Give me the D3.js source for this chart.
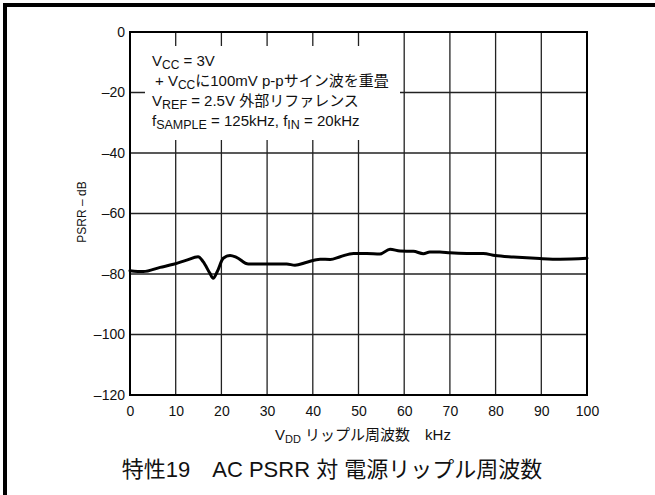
<!DOCTYPE html>
<html>
<head>
<meta charset="utf-8">
<script src="https://cdn.jsdelivr.net/npm/d3@7"></script>
<style>
  html, body { margin: 0; padding: 0; background: #fff; }
  svg { display: block; }
  text { font-family: "Liberation Sans", Arial, "Noto Sans CJK JP", sans-serif; fill: #111; }
</style>
</head>
<body>
<script>
// Ripple frequency (kHz) and measured AC PSRR (dB)
const freqKHz = [0, 2.9, 6.6, 9.5, 12.4, 14.9, 16, 17.5, 18.2, 19.1, 20.4, 21.9, 23.3, 25.9, 29.9, 34.3, 36.1, 38.7, 41.6, 43.8, 46, 48.9, 51.8, 54.7, 56.9, 59.1, 62, 64.2, 65.6, 67.8, 70, 73.7, 77.3, 79.9, 83.9, 89.7, 94.1, 100];
const psrrDB  = [-78.9, -79.2, -77.8, -76.8, -75.4, -74.3, -75.9, -79.8, -81.4, -79.2, -74.8, -73.9, -74.5, -76.7, -76.7, -76.7, -77.1, -76.1, -75.1, -75.2, -74.3, -73.2, -73.2, -73.4, -71.8, -72.4, -72.5, -73.3, -72.7, -72.7, -73.0, -73.2, -73.2, -73.9, -74.4, -74.9, -75.1, -74.8];

const xTicks = [0, 10, 20, 30, 40, 50, 60, 70, 80, 90, 100];
const yTicks = [0, -20, -40, -60, -80, -100, -120];

const W = 655, H = 495;
const plot = { left: 130, right: 587, top: 32, bottom: 395 };

const svg = d3.select("body").append("svg").attr("width", W).attr("height", H);

// Outer frame (top and left edges visible)
svg.append("path")
  .attr("d", `M5,${H + 10} L5,5 L${W + 10},5`)
  .attr("fill", "none").attr("stroke", "#000").attr("stroke-width", 4);

const x = d3.scaleLinear().domain([0, 100]).range([plot.left, plot.right]);
const y = d3.scaleLinear().domain([-120, 0]).range([plot.bottom, plot.top]);

// Grid
const grid = svg.append("g").attr("stroke", "#222").attr("stroke-width", 1.3);
grid.selectAll("line.v").data(xTicks.slice(1, -1)).join("line")
  .attr("x1", d => x(d)).attr("x2", d => x(d))
  .attr("y1", plot.top).attr("y2", plot.bottom);
grid.selectAll("line.h").data(yTicks.slice(1, -1)).join("line")
  .attr("x1", plot.left).attr("x2", plot.right)
  .attr("y1", d => y(d)).attr("y2", d => y(d));

// Conditions box (white background masks the grid)
svg.append("rect")
  .attr("x", 145).attr("y", 46).attr("width", 255).attr("height", 94)
  .attr("fill", "#fff");

// Plot border
svg.append("rect")
  .attr("x", plot.left).attr("y", plot.top)
  .attr("width", plot.right - plot.left).attr("height", plot.bottom - plot.top)
  .attr("fill", "none").attr("stroke", "#000").attr("stroke-width", 2);

// Axes tick labels
const xAxis = d3.axisBottom(x).tickValues(xTicks).tickSize(0).tickPadding(11);
const gx = svg.append("g").attr("transform", `translate(0,${plot.bottom})`).call(xAxis);
gx.select(".domain").remove();
gx.selectAll("text").attr("font-size", 14).attr("font-family", null).style("fill", "#111");

const yAxis = d3.axisLeft(y).tickValues(yTicks).tickSize(0).tickPadding(5)
  .tickFormat(d => d === 0 ? "0" : "–" + Math.abs(d));
const gy = svg.append("g").attr("transform", `translate(${plot.left},0)`).call(yAxis);
gy.select(".domain").remove();
gy.selectAll("text").attr("font-size", 14).attr("font-family", null).style("fill", "#111");

// PSRR curve
const pts = freqKHz.map((f, i) => [f, psrrDB[i]]);
svg.append("path")
  .datum(pts)
  .attr("fill", "none").attr("stroke", "#000").attr("stroke-width", 3)
  .attr("stroke-linejoin", "round").attr("stroke-linecap", "round")
  .attr("d", d3.line().x(d => x(d[0])).y(d => y(d[1])).curve(d3.curveMonotoneX));

// Text helper: segments of [text, isSub]
function richText(parent, px, py, size, subSize, segs, anchor) {
  const t = parent.append("text").attr("x", px).attr("y", py)
    .attr("font-size", size).attr("text-anchor", anchor || "start");
  const shift = 3;
  let sub = false;
  segs.forEach(([s, isSub]) => {
    const ts = t.append("tspan").text(s);
    if (isSub && !sub) { ts.attr("dy", shift).attr("font-size", subSize); sub = true; }
    else if (!isSub && sub) { ts.attr("dy", -shift); sub = false; }
    else if (isSub) ts.attr("font-size", subSize);
  });
  return t;
}

// Measurement conditions
const cond = svg.append("g");
richText(cond, 152, 66, 15, 12, [["V"], ["CC", true], ["  = 3V"]]);
richText(cond, 155, 86, 15, 12, [["+ V"], ["CC", true], ["に100mV p-pサイン波を重畳"]]);
richText(cond, 152, 106, 15, 12.5, [["V"], ["REF", true], [" = 2.5V 外部リファレンス"]]);
richText(cond, 152, 126, 15, 12.5, [["f"], ["SAMPLE", true], [" = 125kHz, f"], ["IN", true], [" = 20kHz"]]);

// Axis titles
richText(svg, 363, 440, 15, 11, [["V"], ["DD", true], [" リップル周波数　kHz"]], "middle");
svg.append("text")
  .attr("transform", `translate(86,212) rotate(-90)`)
  .attr("text-anchor", "middle").attr("font-size", 12)
  .text("PSRR – dB");

// Chart title
svg.append("text")
  .attr("x", 332).attr("y", 477).attr("text-anchor", "middle").attr("font-size", 22)
  .text("特性19　AC PSRR 対 電源リップル周波数");
</script>
</body>
</html>
